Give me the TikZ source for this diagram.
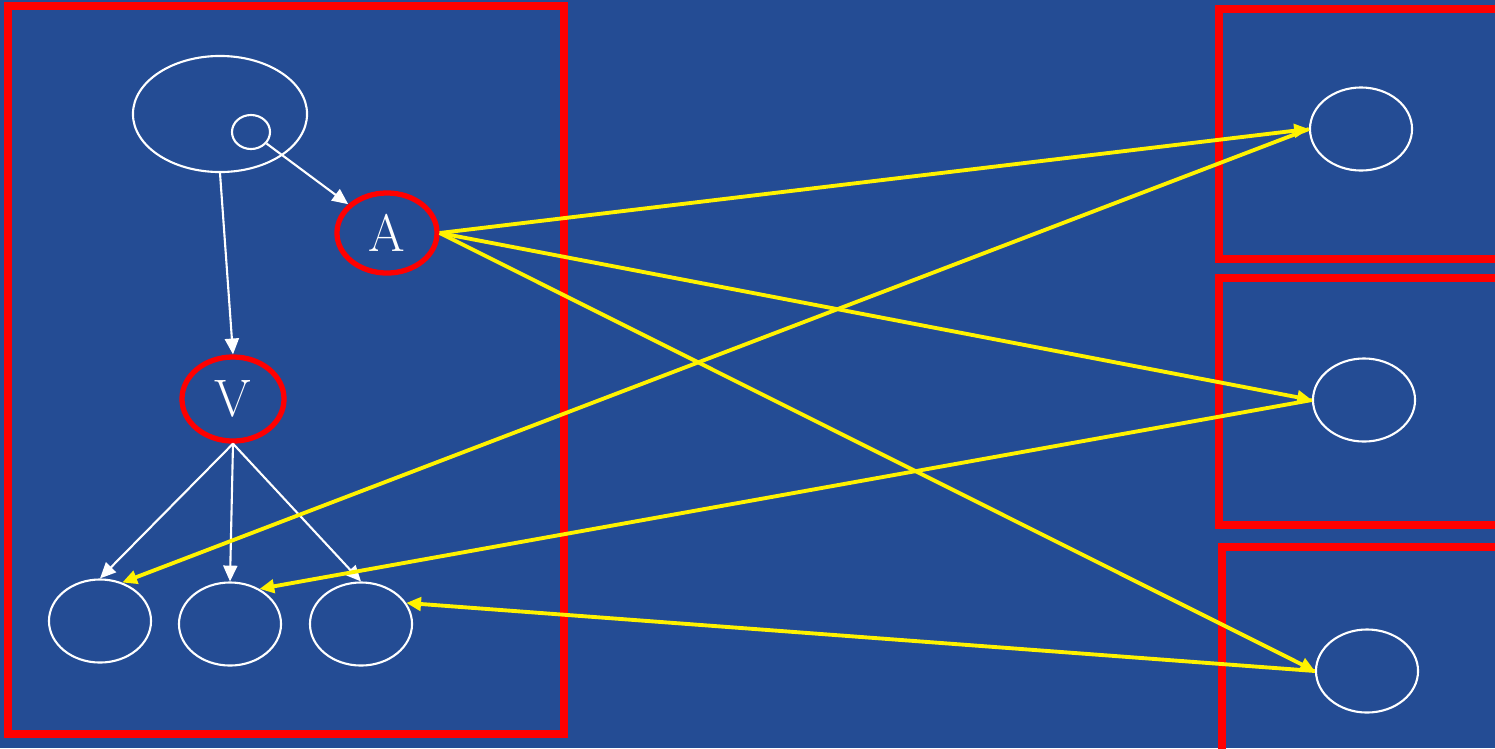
\documentclass[tikz,border=0pt]{standalone}
\usepackage{xcolor}
\usepackage{tikz}
\usetikzlibrary{shapes.geometric, arrows.meta}

\definecolor{bgblue}{RGB}{36,76,148}

\begin{document}
\begin{tikzpicture}[x=0.01cm, y=-0.01cm,
  oval/.style={ellipse, draw=white, line width=0.6pt, minimum width=1.02cm, minimum height=0.83cm, inner sep=0pt},
  hot/.style={ellipse, draw=red, line width=1.5pt, minimum width=1.0cm, minimum height=0.8cm, inner sep=0pt,
    text=white, font=\fontsize{15}{15}\selectfont},
  box/.style={draw=red, line width=2.1pt},
  wedge/.style={white, line width=0.6pt, -{Triangle[length=4.5pt, width=4pt]}},
  yedge/.style={yellow, line width=1.1pt, -{Triangle[length=4.2pt, width=3.8pt]}}]

% Background
\useasboundingbox (0,0) rectangle (1495,748);
\clip (0,0) rectangle (1495,748);
\fill[bgblue] (0,0) rectangle (1495,748);

% Red frames
\draw[box] (8,6) rectangle (564,734);
\draw[box] (1219,9) rectangle (1510,259);
\draw[box] (1219,278) rectangle (1510,525);
\draw[box] (1222,547) rectangle (1510,760);

% Left frame nodes
\node[oval, minimum width=1.74cm, minimum height=1.16cm] (big) at (220,114) {};
\node[oval, minimum width=0.38cm, minimum height=0.34cm] (s) at (251,132) {};
\node[hot] (A) at (387,233) {A};
\node[hot, minimum width=1.02cm, minimum height=0.84cm] (V) at (233,399) {V};
\node[oval] (e1) at (100,621) {};
\node[oval] (e2) at (230,624) {};
\node[oval] (e3) at (361,624) {};

% Right frame nodes
\node[oval] (r1) at (1361,129) {};
\node[oval] (r2) at (1364,400) {};
\node[oval] (r3) at (1367,671) {};

% White connections
\draw[wedge] (s)--(A);
\draw[wedge] (big.south)--(V.north);
\foreach \b in {1,2,3} { \draw[wedge] (V.south)--(e\b.north); }

% Yellow connections: A -> right
\foreach \b in {1,2,3} { \draw[yedge] (A.east)--(r\b.west); }
% Yellow connections: right -> bottom
\draw[yedge] (r1.west)--(e1.60);
\draw[yedge] (r2.west)--(e2.50);
\draw[yedge] (r3.west)--(e3.25);

\end{tikzpicture}
\end{document}
